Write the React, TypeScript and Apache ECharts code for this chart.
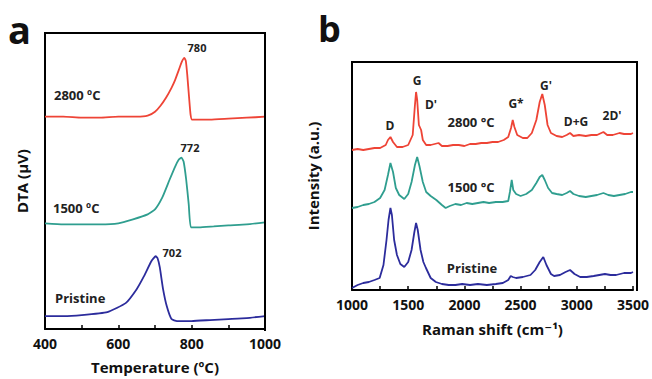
import React, { useEffect, useRef } from "react";
import * as echarts from "echarts";

// ---- Panel a: DTA curves (Temperature °C, DTA arbitrary µV offset) ----
const dtaXTicks = [400, 600, 800, 1000];
const dta2800: [number, number][] = [
  [400, 213], [450, 213], [500, 212], [550, 212], [600, 213], [650, 213], [680, 214],
  [700, 218], [715, 224], [730, 232], [745, 242], [755, 250], [765, 260], [773, 268],
  [780, 272], [784, 269], [788, 255], [793, 232], [797, 215], [801, 210], [850, 210],
  [900, 211], [950, 212], [1000, 213],
];
const dta1500: [number, number][] = [
  [400, 106], [450, 105], [500, 105], [550, 105], [600, 106], [640, 110], [680, 115],
  [700, 120], [720, 132], [740, 150], [755, 163], [765, 170], [772, 172], [778, 168],
  [785, 150], [792, 125], [798, 102], [820, 102], [860, 103], [900, 104], [950, 105], [1000, 107],
];
const dtaPristine: [number, number][] = [
  [400, 13], [450, 13], [500, 14], [570, 17], [620, 26], [650, 40], [670, 53], [690, 68],
  [702, 73], [707, 71], [713, 62], [722, 40], [732, 23], [745, 10], [760, 8], [800, 8],
  [850, 9], [900, 10], [950, 11], [1000, 13],
];
const dtaPeaks = [
  { text: "780", x: 197, y: 47 },
  { text: "772", x: 190, y: 147 },
  { text: "702", x: 172, y: 252 },
];
const dtaNames = [
  { text: "2800 ºC", x: 54, y: 95 },
  { text: "1500 ºC", x: 53, y: 208 },
  { text: "Pristine", x: 55, y: 298 },
];

// ---- Panel b: Raman spectra (Raman shift cm-1, intensity a.u. offset) ----
const ramanXTicks = [1000, 1500, 2000, 2500, 3000, 3500];
const raman2800: [number, number][] = [
  [1000, 140], [1050, 141], [1100, 140], [1150, 141], [1200, 142], [1250, 142], [1300, 145],
  [1320, 150], [1342, 153], [1365, 148], [1400, 143], [1450, 143], [1500, 145], [1540, 155],
  [1560, 185], [1570, 198], [1580, 190], [1595, 165], [1615, 160], [1630, 150], [1660, 145],
  [1700, 145], [1770, 147], [1800, 144], [1850, 144], [1900, 145], [1950, 145], [2000, 144],
  [2050, 146], [2100, 146], [2150, 147], [2200, 147], [2250, 148], [2300, 148], [2350, 150],
  [2390, 153], [2415, 162], [2430, 170], [2445, 163], [2470, 155], [2520, 152], [2560, 152],
  [2600, 157], [2640, 170], [2670, 188], [2693, 196], [2715, 185], [2740, 165], [2770, 157],
  [2820, 154], [2870, 153], [2910, 155], [2940, 157], [2970, 154], [3020, 155], [3080, 154],
  [3130, 155], [3180, 155], [3237, 158], [3270, 155], [3320, 155], [3380, 157], [3420, 156],
  [3482, 156], [3500, 157],
];
const raman1500: [number, number][] = [
  [1000, 82], [1050, 83], [1100, 85], [1150, 86], [1200, 88], [1250, 92], [1290, 100],
  [1320, 115], [1342, 127], [1365, 118], [1390, 102], [1420, 95], [1465, 91], [1500, 96],
  [1530, 108], [1560, 125], [1580, 133], [1600, 124], [1630, 108], [1660, 98], [1700, 94],
  [1750, 90], [1800, 85], [1833, 82], [1870, 84], [1920, 86], [1970, 85], [2020, 87],
  [2070, 86], [2120, 87], [2170, 88], [2220, 87], [2280, 88], [2340, 88], [2390, 89],
  [2405, 98], [2421, 110], [2435, 100], [2460, 96], [2500, 94], [2550, 96], [2600, 100],
  [2640, 107], [2670, 113], [2693, 115], [2715, 110], [2745, 102], [2780, 97], [2820, 96],
  [2870, 95], [2910, 97], [2940, 99], [2970, 96], [3020, 94], [3080, 93], [3130, 94],
  [3180, 95], [3237, 97], [3280, 95], [3330, 94], [3380, 95], [3430, 96], [3482, 98], [3500, 98],
];
const ramanPristine: [number, number][] = [
  [1000, 2], [1050, 5], [1100, 7], [1150, 8], [1200, 10], [1246, 12], [1280, 25], [1307, 50],
  [1325, 70], [1342, 82], [1355, 75], [1375, 50], [1400, 35], [1430, 26], [1465, 23],
  [1500, 28], [1530, 40], [1555, 58], [1570, 67], [1585, 60], [1610, 40], [1635, 28],
  [1658, 22], [1700, 12], [1746, 8], [1800, 6], [1860, 5], [1920, 5], [1980, 6], [2050, 5],
  [2120, 6], [2200, 5], [2280, 6], [2342, 7], [2390, 10], [2412, 14], [2430, 13], [2460, 12],
  [2520, 13], [2588, 15], [2630, 20], [2670, 28], [2702, 33], [2730, 25], [2770, 16],
  [2798, 14], [2850, 15], [2900, 18], [2940, 20], [2980, 16], [3030, 13], [3088, 13],
  [3150, 14], [3200, 15], [3250, 16], [3300, 15], [3350, 15], [3420, 17], [3482, 17], [3500, 18],
];
const ramanBands = [
  { text: "D", x: 390, y: 125 },
  { text: "G", x: 417, y: 80 },
  { text: "D'", x: 431, y: 104 },
  { text: "G*", x: 516, y: 103 },
  { text: "G'", x: 546, y: 85 },
  { text: "D+G", x: 576, y: 121 },
  { text: "2D'", x: 612, y: 115 },
];
const ramanNames = [
  { text: "2800 °C", x: 471, y: 122 },
  { text: "1500 °C", x: 471, y: 187 },
  { text: "Pristine", x: 472, y: 268 },
];

const RED = "#ee4436";
const TEAL = "#2f9e8f";
const BLUE = "#2c2c9c";
const FONT = "'Open Sans', 'DejaVu Sans', sans-serif";

const GRID_A = { left: 45, top: 33, width: 220, height: 297 };
const GRID_B = { left: 352, top: 62, width: 285, height: 228 };

export default function App() {
  const ref = useRef<HTMLDivElement>(null);
  useEffect(() => {
    if (!ref.current) return;
    document.body.style.margin = "0";
    const chart = echarts.init(ref.current, undefined, { renderer: "svg" });
    const labelTicks = (ticks: number[]) => (v: number) => (ticks.includes(v) ? String(v) : "");
    const xAxisCommon = (min: number, max: number, interval: number, ticks: number[], name: any, nameGap: number) => ({
      type: "value" as const,
      min,
      max,
      interval,
      name,
      nameLocation: "middle" as const,
      nameGap,
      nameTextStyle: { fontFamily: FONT, fontWeight: "bold", fontSize: 15, color: "#111" },
      axisLine: { show: true, onZero: false, lineStyle: { color: "#000", width: 2 } },
      axisTick: { show: true, inside: true, length: 4, lineStyle: { color: "#000", width: 1.5 } },
      axisLabel: {
        fontFamily: FONT,
        fontWeight: "bold",
        fontSize: 14,
        color: "#111",
        margin: 7,
        formatter: labelTicks(ticks),
        showMinLabel: true,
        showMaxLabel: true,
      },
      splitLine: { show: false },
    });
    const yAxisCommon = (min: number, max: number, name: string, nameGap: number) => ({
      type: "value" as const,
      min,
      max,
      name,
      nameLocation: "middle" as const,
      nameGap,
      nameTextStyle: { fontFamily: FONT, fontWeight: "bold", fontSize: 15, color: "#111" },
      axisLine: { show: true, onZero: false, lineStyle: { color: "#000", width: 2 } },
      axisTick: { show: false },
      axisLabel: { show: false },
      splitLine: { show: false },
    });
    const lineSeries = (data: [number, number][], color: string, idx: number, smooth: number) => ({
      type: "line" as const,
      data,
      xAxisIndex: idx,
      yAxisIndex: idx,
      showSymbol: false,
      smooth,
      lineStyle: { color, width: 1.8 },
      itemStyle: { color },
    });
    const txt = (t: { text: string; x: number; y: number }, size: number, align = "center") => ({
      type: "text" as const,
      x: t.x,
      y: t.y,
      style: {
        text: t.text,
        fontFamily: FONT,
        fontWeight: "bold",
        fontSize: size,
        fill: "#222",
        align,
        verticalAlign: "middle",
      },
    });
    const frame = (g: { left: number; top: number; width: number; height: number }) => {
      const x0 = g.left;
      const y0 = g.top;
      const x1 = g.left + g.width;
      const y1 = g.top + g.height;
      const seg = (a: number, b: number, c: number, d: number) => ({
        type: "line" as const,
        z: 100,
        silent: true,
        shape: { x1: a, y1: b, x2: c, y2: d },
        style: { stroke: "#000", lineWidth: 2 },
      });
      return [seg(x0 - 1, y0, x1 + 1, y0), seg(x1, y0, x1, y1 + 1)];
    };
    chart.setOption({
      animation: false,
      backgroundColor: "#fff",
      grid: [GRID_A, GRID_B],
      xAxis: [
        { ...xAxisCommon(400, 1000, 100, dtaXTicks, "Temperature (ºC)", 30), gridIndex: 0 },
        { ...xAxisCommon(1000, 3500, 250, ramanXTicks, "Raman shift (cm⁻¹)", 31), gridIndex: 1 },
      ],
      yAxis: [
        { ...yAxisCommon(0, 297, "DTA (µV)", 16), gridIndex: 0 },
        { ...yAxisCommon(0, 228, "Intensity (a.u.)", 32), gridIndex: 1 },
      ],
      series: [
        lineSeries(dta2800, RED, 0, 0.15),
        lineSeries(dta1500, TEAL, 0, 0.15),
        lineSeries(dtaPristine, BLUE, 0, 0.15),
        lineSeries(raman2800, RED, 1, 0),
        lineSeries(raman1500, TEAL, 1, 0),
        lineSeries(ramanPristine, BLUE, 1, 0),
      ],
      graphic: [
        ...frame(GRID_A),
        ...frame(GRID_B),
        { type: "text", x: 8, y: 29, style: { text: "a", fontFamily: FONT, fontWeight: "bold", fontSize: 38, fill: "#111", verticalAlign: "middle" } },
        { type: "text", x: 318, y: 28, style: { text: "b", fontFamily: FONT, fontWeight: "bold", fontSize: 36, fill: "#111", verticalAlign: "middle" } },
        ...dtaPeaks.map((p) => txt(p, 11)),
        ...dtaNames.map((p) => txt(p, 13, "left")),
        ...ramanBands.map((p) => txt(p, 12)),
        ...ramanNames.map((p) => txt(p, 13)),
      ],
    });
    return () => chart.dispose();
  }, []);
  return <div ref={ref} style={{ width: 652, height: 379 }} />;
}
